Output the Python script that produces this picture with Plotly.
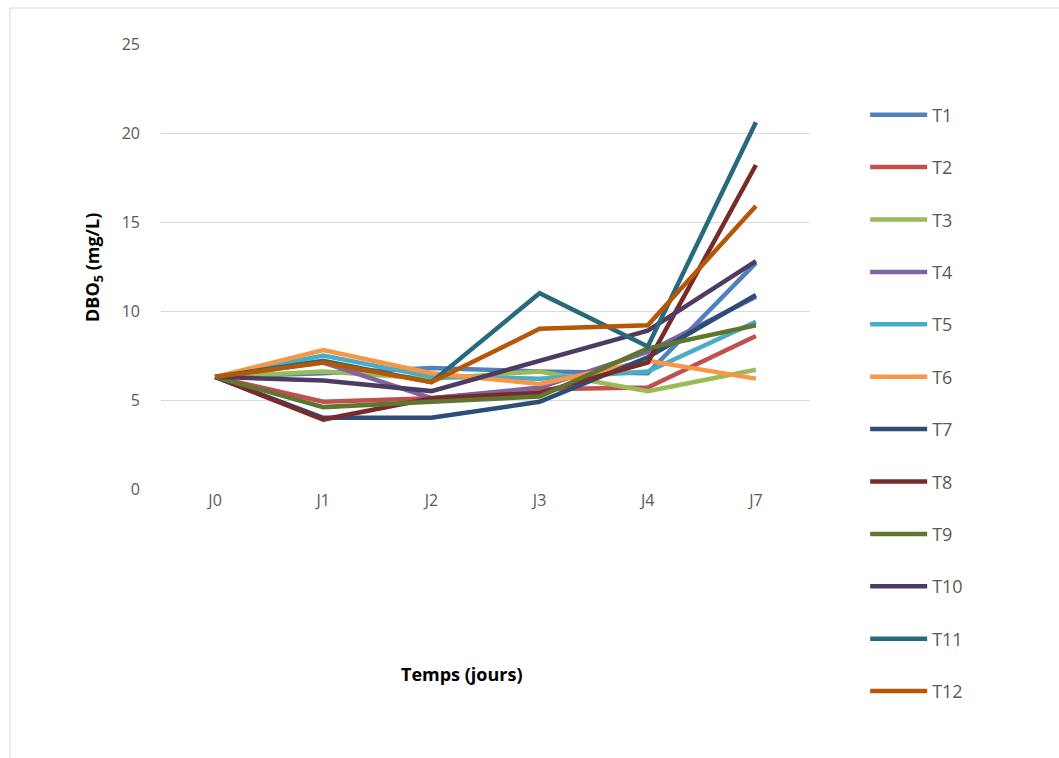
import plotly.graph_objects as go

days = ["J0", "J1", "J2", "J3", "J4", "J7"]
names = ["T1", "T2", "T3", "T4", "T5", "T6", "T7", "T8", "T9", "T10", "T11", "T12"]
T1 = [6.3, 6.5, 6.8, 6.6, 6.5, 12.7]
T2 = [6.3, 4.9, 5.1, 5.6, 5.7, 8.6]
T3 = [6.3, 6.6, 6.2, 6.6, 5.5, 6.7]
T4 = [6.3, 7.1, 5.1, 5.7, 7.7, 10.8]
T5 = [6.3, 7.5, 6.3, 6.2, 6.6, 9.4]
T6 = [6.3, 7.8, 6.5, 5.9, 7.2, 6.2]
T7 = [6.3, 4.0, 4.0, 4.9, 7.4, 10.9]
T8 = [6.3, 3.9, 5.1, 5.4, 7.1, 18.2]
T9 = [6.3, 4.6, 4.9, 5.2, 7.9, 9.2]
T10 = [6.3, 6.1, 5.5, 7.2, 8.9, 12.8]
T11 = [6.3, 7.2, 6.0, 11.0, 8.0, 20.6]
T12 = [6.3, 7.1, 6.0, 9.0, 9.2, 15.9]
series = [T1, T2, T3, T4, T5, T6, T7, T8, T9, T10, T11, T12]
colors = ["#4F81BD", "#C0504D", "#9BBB59", "#8064A2", "#4BACC6", "#F79646",
          "#2C4D75", "#772C2A", "#5F7530", "#4D3B62", "#276A7C", "#B65708"]

fig = go.Figure()
for n, s, c in zip(names, series, colors):
    fig.add_trace(go.Scatter(x=days, y=s, name=n, mode="lines", legendgroup=n,
                             line=dict(color=c, width=4.5)))

fig.update_layout(
    width=1059, height=758,
    paper_bgcolor="white", plot_bgcolor="white",
    margin=dict(l=161, r=249, t=44, b=269),
    font=dict(family="Open Sans", color="#595959"),
    showlegend=True,
    legend=dict(x=1.085, y=0.882, xanchor="left", yanchor="top",
                font=dict(size=18, color="#595959"), tracegroupgap=26,
                itemwidth=57, maxheight=700, bgcolor="rgba(0,0,0,0)"),
    xaxis=dict(type="category", range=[-0.5, 5.5], showgrid=False, zeroline=False,
               showline=False, ticks="", tickfont=dict(size=16, color="#595959")),
    yaxis=dict(range=[0, 25], dtick=5, showgrid=True, gridcolor="#d9d9d9", gridwidth=1,
               zeroline=False, showline=False, ticks="", ticklabelstandoff=20,
               tickfont=dict(size=16, color="#595959")),
    shapes=[dict(type="rect", xref="paper", yref="paper",
                 x0=(10 - 161) / 649, x1=(1100 - 161) / 649,
                 y0=(489 - 800) / 445, y1=(489 - 8) / 445,
                 line=dict(color="#d9d9d9", width=1), layer="below")],
    annotations=[
        dict(text="<b>Temps (jours)</b>", xref="paper", yref="paper",
             x=(462 - 161) / 649, y=(489 - 674) / 445, showarrow=False,
             font=dict(size=18, color="black"), xanchor="center", yanchor="middle"),
        dict(text="<b>DBO<sub>5</sub> (mg/L)</b>", xref="paper", yref="paper",
             x=(93 - 161) / 649, y=(489 - 268) / 445, showarrow=False, textangle=-90,
             font=dict(size=18, color="black"), xanchor="center", yanchor="middle"),
    ],
)

fig.write_html("out.html")
